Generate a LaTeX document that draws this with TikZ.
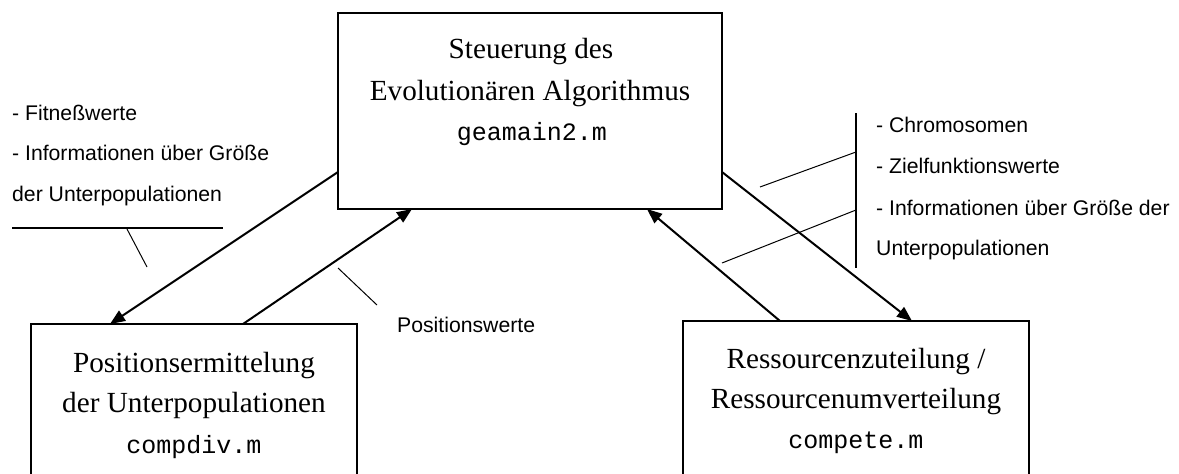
\documentclass[tikz,border=0pt]{standalone}
\usepackage{fontspec}
\setmainfont{Liberation Serif}
\setsansfont{Liberation Sans}
\setmonofont{Liberation Mono}
\usetikzlibrary{arrows.meta}
\begin{document}
\begin{tikzpicture}[x=1pt,y=-1pt,
  box/.style={draw,line width=2pt,inner sep=0pt},
  arr/.style={line width=2pt,-{Triangle[length=15pt,width=12pt]}},
  thinline/.style={line width=1pt},
  thickline/.style={line width=2pt},
  serif/.style={font=\fontsize{29.2}{35}\selectfont,anchor=base,inner sep=0pt},
  mono/.style={font=\fontsize{25}{30}\selectfont\ttfamily,anchor=base,inner sep=0pt},
  lab/.style={font=\fontsize{21.2}{25}\selectfont\sffamily,anchor=base west,inner sep=0pt}]
\useasboundingbox[fill=white] (0,0) rectangle (1179,474);

% boxes
\node[box,minimum width=384pt,minimum height=196pt] (ctrl) at (530,111) {};
\node[box,minimum width=326pt,minimum height=154pt] (pos) at (194,401) {};
\node[box,minimum width=346pt,minimum height=157pt] (res) at (856,399.5) {};

% box texts
\node[serif] (c1) at (531,58) {Steuerung des};
\node[serif] (c2) at (530,100) {Evolutionären Algorithmus};
\node[mono] (c3) at (532,140) {geamain2.m};
\node[serif] (p1) at (194,372) {Positionsermittelung};
\node[serif] (p2) at (194,412) {der Unterpopulationen};
\node[mono] (p3) at (194,453) {compdiv.m};
\node[serif] (r1) at (856,368) {Ressourcenzuteilung /};
\node[serif] (r2) at (856,408) {Ressourcenumverteilung};
\node[mono] (r3) at (856,448) {compete.m};

% arrow end points on the box borders
\coordinate (a1s) at (338,172);
\coordinate (a1e) at (110,324);
\coordinate (a2s) at (243,324);
\coordinate (a2e) at (412,209);
\coordinate (a3s) at (780,321);
\coordinate (a3e) at (647,209);
\coordinate (a4s) at (722,172);
\coordinate (a4e) at (912,321);
\draw[arr] (a1s) -- (a1e);
\draw[arr] (a2s) -- (a2e);
\draw[arr] (a3s) -- (a3e);
\draw[arr] (a4s) -- (a4e);

% left labels
\node[lab] (l1) at (12,120) {- Fitneßwerte};
\node[lab] (l2) at (12,160) {- Informationen über Größe};
\node[lab] (l3) at (12,201) {der Unterpopulationen};
\coordinate (lh1) at (12,228);
\coordinate (lh2) at (223,228);
\coordinate (lc1) at (127,229);
\coordinate (lc2) at (147,267);
\draw[thickline] (lh1) -- (lh2);
\draw[thinline] (lc1) -- (lc2);

% Positionswerte
\node[lab] (pw) at (397,332) {Positionswerte};
\coordinate (pc1) at (338,268);
\coordinate (pc2) at (377,305);
\draw[thinline] (pc1) -- (pc2);

% right labels
\node[lab] (rl1) at (876,132) {- Chromosomen};
\node[lab] (rl2) at (876,173) {- Zielfunktionswerte};
\node[lab] (rl3) at (876,215) {- Informationen über Größe der};
\node[lab] (rl4) at (876,255) {Unterpopulationen};
\coordinate (rv1) at (856,113);
\coordinate (rv2) at (856,268);
\coordinate (rb1) at (856,152);
\coordinate (rc1) at (760,187);
\coordinate (rb2) at (856,210);
\coordinate (rc2) at (722,263);
\draw[thickline] (rv1) -- (rv2);
\draw[thinline] (rb1) -- (rc1);
\draw[thinline] (rb2) -- (rc2);
\end{tikzpicture}
\end{document}
